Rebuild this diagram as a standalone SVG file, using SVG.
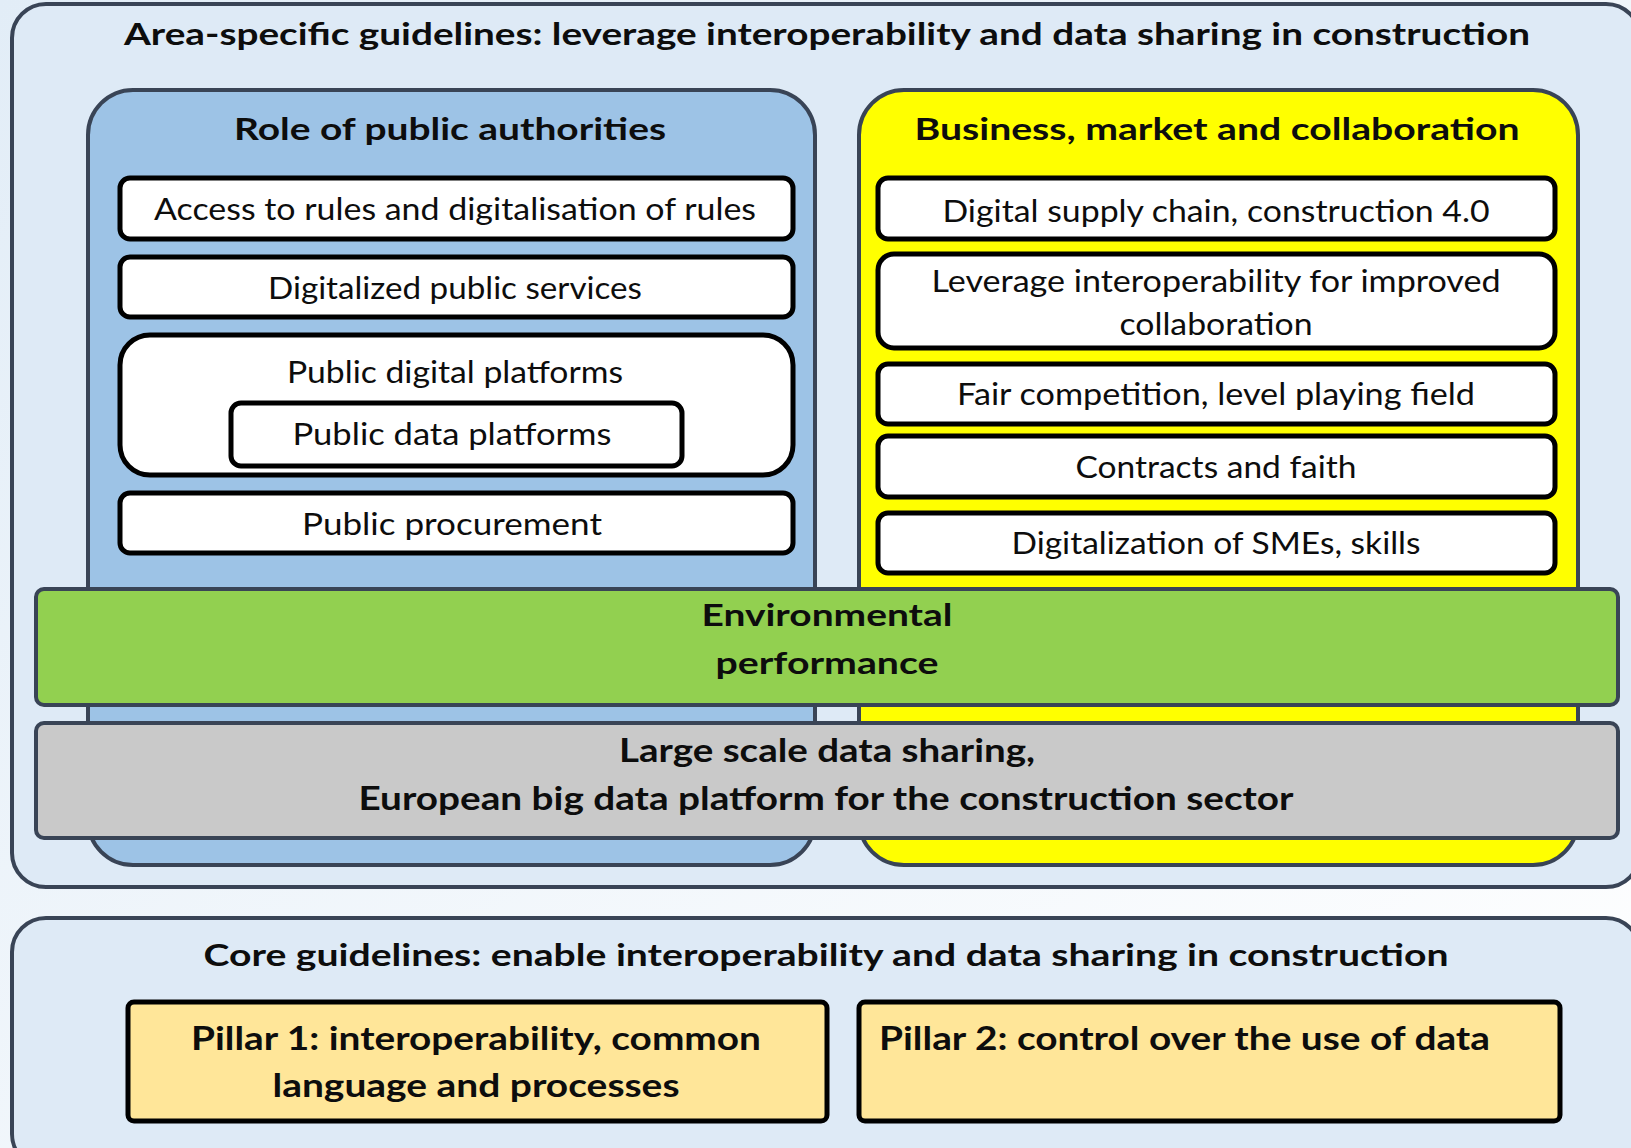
<svg xmlns="http://www.w3.org/2000/svg" width="1631" height="1148" viewBox="0 0 1631 1148">
  <defs>
    <linearGradient id="pageBg" x1="0" y1="0" x2="1" y2="1">
      <stop offset="0" stop-color="#E2EDF7"/>
      <stop offset="1" stop-color="#FFFFFF"/>
    </linearGradient>
    <style>
      text { font-family: Lato, "Liberation Sans", Arial, sans-serif; fill: #0D0D0D; text-anchor: middle; }
      .bold { font-weight: 700; }
      .title { font-size: 30px; }
      .item { font-size: 30px; font-weight: 400; }
      .band { font-size: 31px; }
      .band-lg { font-size: 33px; }
      .pillar-t { font-size: 32px; }
      .frame { fill: #DEEAF6; stroke: #394456; stroke-width: 4; }
      .column { stroke: #394456; stroke-width: 4; }
      .blue { fill: #9DC3E6; }
      .yellow { fill: #FFFF00; }
      .item-box { fill: #FFFFFF; stroke: #000000; stroke-width: 5; }
      .green { fill: #92D050; stroke: #394456; stroke-width: 4; }
      .gray { fill: #C9C9C9; stroke: #394456; stroke-width: 4; }
      .pillar { fill: #FFE699; stroke: #000000; stroke-width: 5; }
    </style>
  </defs>

  <!-- page background -->
  <rect x="0" y="0" width="1631" height="1148" fill="url(#pageBg)"/>

  <!-- upper frame: area-specific guidelines -->
  <g id="area-specific">
    <rect class="frame" x="12" y="4" width="1628" height="883" rx="34"/>
    <text class="bold title" x="827" y="45" textLength="1406" lengthAdjust="spacingAndGlyphs">Area-specific guidelines: leverage interoperability and data sharing in construction</text>
  </g>

  <!-- left column: role of public authorities -->
  <g id="public-authorities">
    <rect class="column blue" x="88" y="90" width="727" height="775" rx="45"/>
    <text class="bold title" x="450" y="140" textLength="432" lengthAdjust="spacingAndGlyphs">Role of public authorities</text>
  </g>

  <!-- right column: business, market and collaboration -->
  <g id="business-market">
    <rect class="column yellow" x="859" y="90" width="719" height="775" rx="45"/>
    <text class="bold title" x="1217" y="140" textLength="605" lengthAdjust="spacingAndGlyphs">Business, market and collaboration</text>
  </g>

  <g id="access-rules">
    <rect class="item-box" x="120" y="178" width="673" height="61" rx="10"/>
    <text class="item" x="455" y="220" textLength="602" lengthAdjust="spacingAndGlyphs">Access to rules and digitalisation of rules</text>
  </g>

  <g id="public-services">
    <rect class="item-box" x="120" y="257" width="673" height="60" rx="10"/>
    <text class="item" x="455" y="299" textLength="374" lengthAdjust="spacingAndGlyphs">Digitalized public services</text>
  </g>

  <g id="digital-platforms">
    <rect class="item-box" x="120" y="335" width="673" height="140" rx="30"/>
    <text class="item" x="455" y="383" textLength="336" lengthAdjust="spacingAndGlyphs">Public digital platforms</text>
  </g>

  <g id="data-platforms">
    <rect class="item-box" x="231" y="403" width="451" height="63" rx="10"/>
    <text class="item" x="452" y="445" textLength="319" lengthAdjust="spacingAndGlyphs">Public data platforms</text>
  </g>

  <g id="procurement">
    <rect class="item-box" x="120" y="493" width="673" height="60" rx="10"/>
    <text class="item" x="452" y="535" textLength="300" lengthAdjust="spacingAndGlyphs">Public procurement</text>
  </g>

  <g id="supply-chain">
    <rect class="item-box" x="878" y="178" width="677" height="61" rx="10"/>
    <text class="item" x="1216" y="222" textLength="547" lengthAdjust="spacingAndGlyphs">Digital supply chain, construction 4.0</text>
  </g>

  <g id="collaboration">
    <rect class="item-box" x="878" y="254" width="677" height="94" rx="16"/>
    <text class="item" x="1216" y="292" textLength="569" lengthAdjust="spacingAndGlyphs">Leverage interoperability for improved</text>
    <text class="item" x="1216" y="335" textLength="193" lengthAdjust="spacingAndGlyphs">collaboration</text>
  </g>

  <g id="fair-competition">
    <rect class="item-box" x="878" y="364" width="677" height="60" rx="10"/>
    <text class="item" x="1216" y="405" textLength="518" lengthAdjust="spacingAndGlyphs">Fair competition, level playing field</text>
  </g>

  <g id="contracts">
    <rect class="item-box" x="878" y="436" width="677" height="61" rx="10"/>
    <text class="item" x="1216" y="478" textLength="281" lengthAdjust="spacingAndGlyphs">Contracts and faith</text>
  </g>

  <g id="smes-skills">
    <rect class="item-box" x="878" y="513" width="677" height="60" rx="10"/>
    <text class="item" x="1216" y="554" textLength="409" lengthAdjust="spacingAndGlyphs">Digitalization of SMEs, skills</text>
  </g>

  <!-- cross-cutting bands over both columns -->
  <g id="environmental">
    <rect class="green" x="36" y="589" width="1582" height="116" rx="8"/>
    <text class="bold band" x="827" y="626" textLength="251" lengthAdjust="spacingAndGlyphs">Environmental</text>
    <text class="bold band" x="827" y="674" textLength="223" lengthAdjust="spacingAndGlyphs">performance</text>
  </g>

  <g id="data-sharing">
    <rect class="gray" x="36" y="723" width="1582" height="115" rx="8"/>
    <text class="bold band-lg" x="827" y="762" textLength="416" lengthAdjust="spacingAndGlyphs">Large scale data sharing,</text>
    <text class="bold band-lg" x="826" y="810" textLength="935" lengthAdjust="spacingAndGlyphs">European big data platform for the construction sector</text>
  </g>

  <!-- lower frame: core guidelines -->
  <g id="core">
    <rect class="frame" x="12" y="918" width="1628" height="250" rx="34"/>
    <text class="bold title" x="826" y="966" textLength="1245" lengthAdjust="spacingAndGlyphs">Core guidelines: enable interoperability and data sharing in construction</text>
  </g>

  <g id="pillar-1">
    <rect class="pillar" x="128" y="1002" width="699" height="119" rx="6"/>
    <text class="bold pillar-t" x="476" y="1050" textLength="570" lengthAdjust="spacingAndGlyphs">Pillar 1: interoperability, common</text>
    <text class="bold pillar-t" x="476" y="1097" textLength="407" lengthAdjust="spacingAndGlyphs">language and processes</text>
  </g>

  <g id="pillar-2">
    <rect class="pillar" x="859" y="1002" width="701" height="119" rx="6"/>
    <text class="bold pillar-t" x="879" y="1050" style="text-anchor:start" textLength="611" lengthAdjust="spacingAndGlyphs">Pillar 2: control over the use of data</text>
  </g>

  <!-- no connectors in this layout -->
  <g id="connectors"/>
</svg>
